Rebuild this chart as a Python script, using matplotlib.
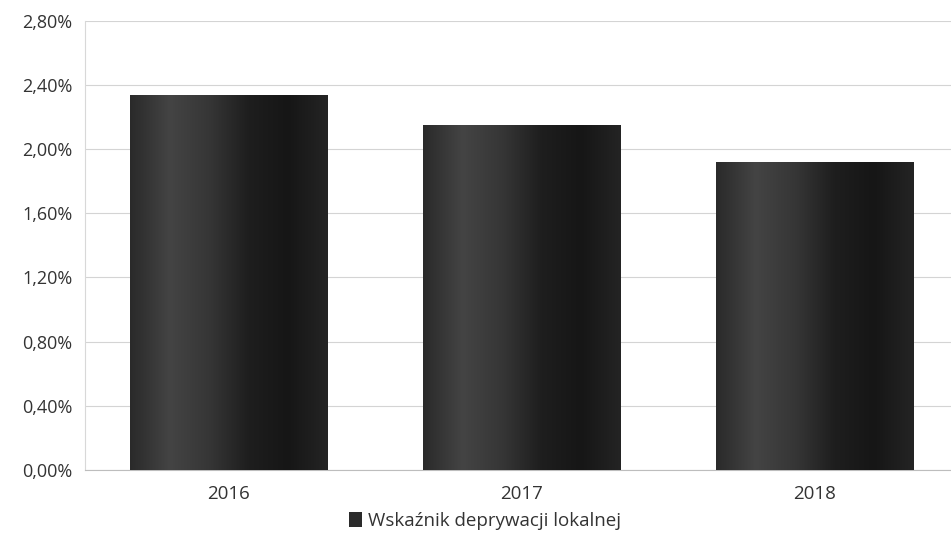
import matplotlib.pyplot as plt
import numpy as np
from matplotlib.colors import LinearSegmentedColormap
from matplotlib.ticker import FuncFormatter, MultipleLocator

plt.rcParams['font.family'] = ['Open Sans', 'DejaVu Sans']

# dane
years = ['2016', '2017', '2018']
values = [2.34, 2.15, 1.92]
series_name = 'Wskaźnik deprywacji lokalnej'

fig = plt.figure(figsize=(9.51, 5.45), dpi=100)
ax = fig.add_axes([85 / 951, 75 / 545, (951 - 85) / 951, (470 - 20.7) / 545])

x = np.arange(len(years))
bars = ax.bar(x, values, width=0.676, color='#2b2b2b', label=series_name, zorder=2)

# cieniowanie słupków (efekt walca)
cmap = LinearSegmentedColormap.from_list(
    'cyl', ['#2a2a2a', '#444444', '#363636', '#1e1e1e', '#161616', '#242424'])
grad = np.linspace(0, 1, 256).reshape(1, -1)
for b in bars:
    im = ax.imshow(grad, cmap=cmap, aspect='auto', zorder=3,
                   extent=[b.get_x(), b.get_x() + b.get_width(), 0, b.get_height()])
    im.set_clip_path(b)

ax.set_xlim(-0.491, 2.466)
ax.set_ylim(0, 2.8)
ax.yaxis.set_major_locator(MultipleLocator(0.4))
ax.yaxis.set_major_formatter(FuncFormatter(lambda v, p: f'{v:.2f}%'.replace('.', ',')))
ax.set_xticks(x)
ax.set_xticklabels(years)
ax.tick_params(axis='both', length=0, labelcolor='#333333')
ax.tick_params(axis='x', pad=11, labelsize=13.5)
ax.tick_params(axis='y', pad=9, labelsize=13)

ax.grid(axis='y', color='#d4d4d4', linewidth=0.8, zorder=0)
ax.set_axisbelow(True)
for s in ['top', 'right']:
    ax.spines[s].set_visible(False)
ax.spines['left'].set_color('#d8d8d8')
ax.spines['bottom'].set_color('#bdbdbd')

fig.legend(loc='lower center', bbox_to_anchor=(0.51, -0.003), frameon=False,
           fontsize=13.5, handlelength=0.7, handleheight=0.9, handletextpad=0.3,
           labelcolor='#333333')

plt.savefig('out.png', dpi=100)
